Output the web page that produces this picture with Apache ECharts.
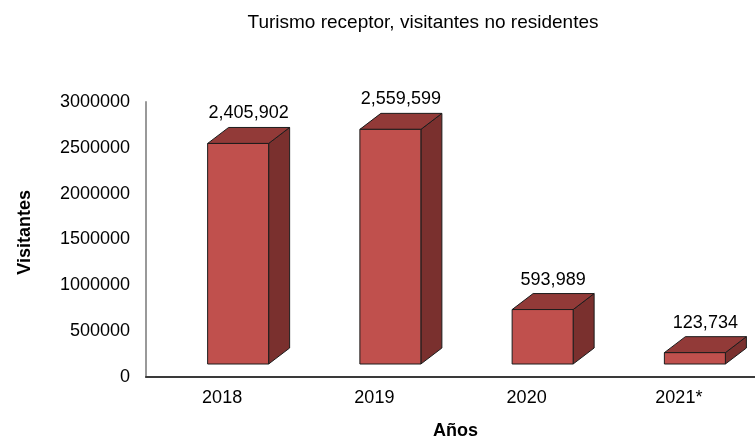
<!DOCTYPE html>
<html>
<head>
<meta charset="utf-8">
<script src="https://cdn.jsdelivr.net/npm/echarts@6/dist/echarts.min.js"></script>
<style>
  html, body { margin: 0; padding: 0; background: #fff; }
  #chart { width: 755px; height: 440px; }
</style>
</head>
<body>
<div id="chart"></div>
<script>
  // datos del gráfico
  var years = ['2018', '2019', '2020', '2021*'];
  var visitors = [2405902, 2559599, 593989, 123734];
  var yTicks = [0, 500000, 1000000, 1500000, 2000000, 2500000, 3000000];

  var FONT = '"Liberation Sans", Arial, sans-serif';
  // caja 3D estilo Excel
  var FRONT_W = 61, SHIFT_X = 16, LIFT = 13, DEPTH_X = 21, DEPTH_Y = -16;

  function fmt(v) {
    return v.toString().replace(/\B(?=(\d{3})+(?!\d))/g, ',');
  }

  function renderBox(params, api) {
    var idx = api.value(0);
    var top = api.coord([idx, api.value(1)]);
    var base = api.coord([idx, 0]);
    var x0 = top[0] + SHIFT_X - FRONT_W / 2;
    var x1 = x0 + FRONT_W;
    var yT = top[1] - LIFT;
    var yB = base[1] - LIFT;
    var line = { stroke: '#1c1c1c', lineWidth: 1 };
    return {
      type: 'group',
      children: [
        { // lado
          type: 'polygon',
          shape: { points: [[x1, yT], [x1 + DEPTH_X, yT + DEPTH_Y], [x1 + DEPTH_X, yB + DEPTH_Y], [x1, yB]] },
          style: Object.assign({ fill: '#7a302e' }, line)
        },
        { // tapa
          type: 'polygon',
          shape: { points: [[x0, yT], [x0 + DEPTH_X, yT + DEPTH_Y], [x1 + DEPTH_X, yT + DEPTH_Y], [x1, yT]] },
          style: Object.assign({ fill: '#923a38' }, line)
        },
        { // frente
          type: 'rect',
          shape: { x: x0, y: yT, width: FRONT_W, height: yB - yT },
          style: Object.assign({ fill: '#c0504d' }, line)
        },
        {
          type: 'text',
          style: {
            x: (x0 + x1 + DEPTH_X) / 2,
            y: yT + DEPTH_Y - 5,
            text: fmt(api.value(1)),
            align: 'center',
            verticalAlign: 'bottom',
            fill: '#000',
            font: '18px ' + FONT
          }
        }
      ]
    };
  }

  var chart = echarts.init(document.getElementById('chart'));
  chart.setOption({
    backgroundColor: '#fff',
    animation: false,
    title: {
      text: 'Turismo receptor, visitantes no residentes',
      left: 418,
      top: 8,
      textAlign: 'center',
      textStyle: { fontFamily: FONT, fontSize: 19, fontWeight: 'normal', color: '#000' }
    },
    grid: { left: 146, right: 0, top: 102, bottom: 63 },
    xAxis: {
      type: 'category',
      data: years,
      axisLine: { lineStyle: { color: '#3a3a3a', width: 2 } },
      axisTick: { show: false },
      axisLabel: { fontFamily: FONT, fontSize: 18, color: '#000', margin: 12 }
    },
    yAxis: {
      type: 'value',
      min: yTicks[0],
      max: yTicks[yTicks.length - 1],
      interval: yTicks[1] - yTicks[0],
      axisLine: { show: true, lineStyle: { color: '#999', width: 2 } },
      axisTick: { show: false },
      splitLine: { show: false },
      axisLabel: {
        fontFamily: FONT, fontSize: 18, color: '#000', margin: 16,
        formatter: function (v) { return String(v); }
      }
    },
    graphic: [
      {
        type: 'text',
        left: 16, top: 190,
        rotation: Math.PI / 2,
        style: { text: 'Visitantes', font: 'bold 18px ' + FONT, fill: '#000' }
      },
      {
        type: 'text',
        left: 433, top: 422,
        style: { text: 'Años', font: 'bold 18px ' + FONT, fill: '#000' }
      }
    ],
    series: [{
      type: 'custom',
      renderItem: renderBox,
      encode: { x: 0, y: 1 },
      data: visitors.map(function (v, i) { return [i, v]; })
    }]
  });
</script>
</body>
</html>
